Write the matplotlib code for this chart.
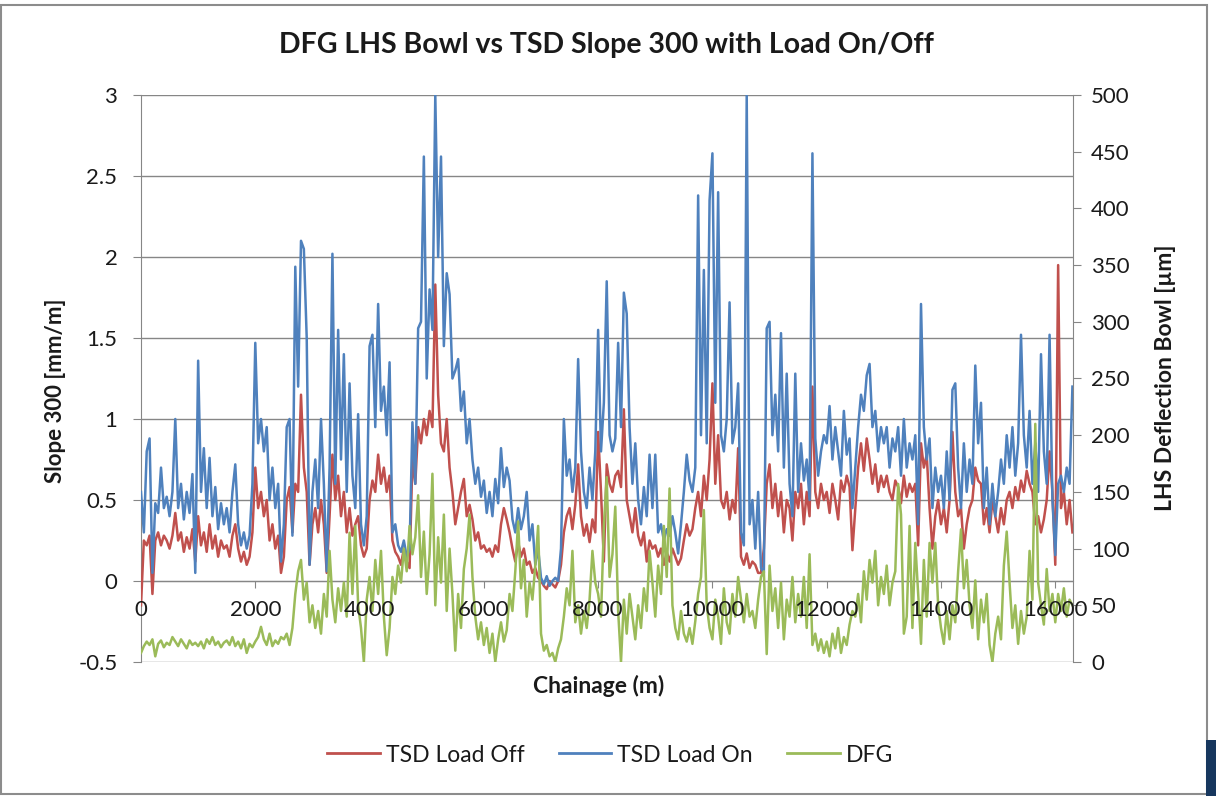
import numpy as np
import matplotlib
matplotlib.use("Agg")
import matplotlib.pyplot as plt
from matplotlib.lines import Line2D
from matplotlib.patches import Rectangle
from matplotlib.transforms import offset_copy

plt.rcParams['font.family'] = ['Lato', 'DejaVu Sans']

# Chainage sampled every 50 m (0 .. 16300 m)
chainage = np.arange(0, 16301, 50)

# TSD Load Off (Slope 300, mm/m) - left axis
load_off = [
    -0.15, 0.25, 0.22, 0.28, -0.08, 0.25, 0.30, 0.22, 0.28, 0.25,
    0.20, 0.28, 0.42, 0.25, 0.30, 0.18, 0.27, 0.20, 0.32, 0.12,
    0.40, 0.22, 0.30, 0.18, 0.35, 0.20, 0.28, 0.15, 0.25, 0.20,
    0.22, 0.15, 0.28, 0.35, 0.20, 0.12, 0.18, 0.10, 0.15, 0.30,
    0.70, 0.45, 0.55, 0.40, 0.50, 0.25, 0.35, 0.20, 0.28, 0.05,
    0.15, 0.50, 0.58, 0.30, 0.60, 0.55, 1.15, 0.70, 0.55, 0.10,
    0.35, 0.45, 0.30, 0.50, 0.35, 0.05, 0.40, 0.78, 0.50, 0.65,
    0.40, 0.55, 0.30, 0.45, 0.28, 0.35, 0.40, 0.22, 0.15, 0.20,
    0.50, 0.62, 0.55, 0.78, 0.60, 0.70, 0.55, 0.65, 0.25, 0.18,
    0.15, 0.10, 0.20, 0.12, 0.08, 0.75, 0.60, 0.95, 0.85, 1.00,
    0.90, 1.05, 0.95, 1.83, 1.15, 0.85, 0.80, 1.00, 0.70, 0.55,
    0.35, 0.45, 0.55, 0.63, 0.40, 0.47, 0.38, 0.25, 0.30, 0.20,
    0.22, 0.18, 0.20, 0.15, 0.22, 0.18, 0.35, 0.45, 0.38, 0.30,
    0.20, 0.12, 0.24, 0.15, 0.20, 0.10, 0.12, 0.05, 0.08, 0.02,
    0.00, -0.03, -0.05, 0.00, -0.02, -0.04, 0.00, 0.10, 0.30, 0.40,
    0.45, 0.32, 0.47, 0.72, 0.40, 0.28, 0.35, 0.24, 0.38, 0.30,
    0.92, 0.55, 0.12, 0.72, 0.60, 0.55, 0.65, 0.68, 0.58, 1.06,
    0.50, 0.40, 0.30, 0.45, 0.28, 0.22, 0.30, 0.12, 0.25, 0.20,
    0.22, 0.15, 0.20, 0.10, 0.18, 0.12, 0.20, 0.15, 0.10, 0.14,
    0.25, 0.35, 0.28, 0.32, 0.45, 0.55, 0.40, 0.65, 0.50, 0.75,
    1.22, 0.60, 0.90, 0.50, 0.45, 0.55, 0.38, 0.50, 0.42, 0.82,
    0.15, 0.10, 0.17, 0.08, 0.12, 0.10, 0.05, 0.05, 0.20, 0.60,
    0.72, 0.45, 0.60, 0.40, 0.55, 0.30, 0.50, 0.45, 0.25, 0.55,
    0.45, 0.60, 0.35, 0.55, 0.40, 1.20, 0.55, 0.45, 0.60, 0.50,
    0.55, 0.42, 0.60, 0.50, 0.38, 0.62, 0.55, 0.65, 0.58, 0.19,
    0.45, 0.70, 0.85, 0.68, 0.88, 0.75, 0.60, 0.72, 0.55, 0.65,
    0.58, 0.65, 0.55, 0.50, 0.62, 0.58, 0.48, 0.65, 0.52, 0.60,
    0.55, 0.60, 0.22, 0.85, 0.70, 0.78, 0.45, 0.20, 0.40, 0.50,
    0.35, 0.45, 0.30, 0.50, 0.92, 0.55, 0.40, 0.45, 0.20, 0.35,
    0.45, 0.50, 0.70, 0.62, 0.60, 0.35, 0.45, 0.30, 0.50, 0.40,
    0.30, 0.45, 0.35, 0.50, 0.55, 0.45, 0.58, 0.50, 0.62, 0.55,
    0.68, 0.60, 0.55, 0.35, 0.40, 0.30, 0.38, 0.50, 0.80, 0.55,
    0.10, 1.95, 0.45, 0.55, 0.35, 0.50, 0.30,
]

# TSD Load On (Slope 300, mm/m) - left axis
load_on = [
    0.55, 0.30, 0.80, 0.88, 0.05, 0.48, 0.42, 0.70, 0.45, 0.52,
    0.40, 0.55, 1.00, 0.45, 0.60, 0.38, 0.55, 0.42, 0.66, 0.05,
    1.36, 0.55, 0.82, 0.45, 0.76, 0.40, 0.58, 0.32, 0.48, 0.35,
    0.45, 0.30, 0.55, 0.72, 0.35, 0.22, 0.30, 0.20, 0.28, 0.60,
    1.47, 0.85, 1.00, 0.80, 0.95, 0.50, 0.70, 0.45, 0.60, 0.12,
    0.35, 0.95, 1.00, 0.28, 1.94, 1.20, 2.10, 2.05, 1.50, 0.10,
    0.55, 0.75, 0.45, 1.00, 0.60, 0.06, 0.70, 2.02, 0.60, 1.55,
    0.75, 1.40, 0.55, 1.22, 0.65, 0.45, 1.03, 0.35, 0.22, 0.40,
    1.45, 1.52, 0.95, 1.71, 1.05, 1.20, 0.90, 1.35, 0.30, 0.35,
    0.22, 0.18, 0.25, 0.15, 0.20, 0.98, 0.60, 1.56, 1.60, 2.62,
    1.25, 1.80, 1.55, 3.00, 2.00, 2.62, 1.45, 1.90, 1.77, 1.25,
    1.30, 1.37, 1.05, 1.17, 0.85, 1.00, 0.75, 0.60, 0.70, 0.52,
    0.62, 0.42, 0.55, 0.40, 0.63, 0.48, 0.82, 0.58, 0.70, 0.62,
    0.38, 0.30, 0.45, 0.32, 0.40, 0.55, 0.25, 0.35, 0.10, 0.20,
    0.02, -0.02, 0.03, -0.03, 0.00, 0.02, 0.00, 0.20, 1.00, 0.65,
    0.75, 0.55, 0.70, 1.37, 0.80, 0.55, 0.45, 0.70, 0.50, 0.80,
    1.55, 0.80, 1.10, 1.85, 0.90, 0.80, 0.88, 1.47, 0.95, 1.78,
    1.65, 0.95, 0.60, 0.85, 0.50, 0.35, 0.58, 0.40, 0.78, 0.45,
    0.78, 0.30, 0.35, 0.25, 0.32, 0.28, 0.40, 0.30, 0.17, 0.35,
    0.55, 0.78, 0.62, 0.55, 0.70, 2.38, 0.90, 1.92, 0.85, 2.35,
    2.64, 1.10, 2.40, 0.90, 0.80, 1.00, 1.72, 0.85, 0.95, 1.22,
    0.30, 0.22, 3.00, 0.35, 0.50, 0.20, 0.55, 0.08, 0.05, 1.56,
    1.60, 0.90, 1.15, 0.80, 1.53, 0.70, 1.28, 0.60, 0.40, 1.28,
    0.55, 0.85, 0.62, 0.75, 0.50, 2.64, 0.88, 0.65, 0.80, 0.90,
    0.85, 1.08, 0.75, 0.95, 0.80, 0.65, 1.05, 0.78, 0.88, 0.45,
    0.70, 0.95, 1.15, 1.05, 1.27, 1.34, 0.95, 1.05, 0.80, 0.95,
    0.85, 0.95, 0.70, 0.88, 0.80, 0.95, 0.65, 1.00, 0.70, 0.85,
    0.75, 0.90, 0.35, 1.71, 0.95, 0.75, 0.88, 0.45, 0.70, 0.55,
    0.65, 0.45, 0.80, 0.50, 1.18, 1.22, 0.70, 0.45, 0.85, 0.55,
    0.75, 0.60, 1.33, 0.85, 1.10, 0.45, 0.70, 0.35, 0.60, 0.40,
    0.55, 0.75, 0.60, 0.90, 0.70, 0.95, 0.65, 0.85, 1.52, 0.90,
    0.70, 1.05, 0.60, 0.85, 0.55, 1.40, 0.80, 0.60, 1.52, 0.50,
    0.16, 0.60, 0.65, 0.55, 0.70, 0.60, 1.20,
]

# DFG LHS deflection bowl (um) - right axis
dfg = [
    8, 14, 18, 15, 20, 5, 16, 19, 13, 17,
    15, 22, 18, 14, 20, 16, 12, 19, 15, 17,
    14, 18, 12, 20, 16, 22, 15, 18, 13, 17,
    19, 15, 22, 14, 18, 12, 20, 8, 16, 13,
    18, 22, 31, 20, 15, 25, 14, 19, 16, 22,
    20, 25, 15, 30, 60, 80, 90, 55, 70, 35,
    50, 30, 45, 25, 60, 40, 98, 55, 35, 65,
    45, 70, 40, 114, 60, 120, 50, 30, 0, 55,
    75, 45, 90, 60, 98, 40, 6, 30, 75, 60,
    85, 70, 100, 80, 120, 95, 110, 147, 75, 115,
    60, 95, 166, 50, 110, 70, 130, 45, 100, 60,
    10, 60, 30, 82, 100, 130, 75, 40, 20, 35,
    15, 30, 8, 25, 0, 20, 35, 18, 28, 60,
    45, 80, 124, 65, 90, 40, 70, 55, 85, 120,
    25, 10, 15, 5, 8, 0, 12, 20, 40, 65,
    50, 98, 35, 50, 25, 45, 30, 55, 98, 70,
    60, 40, 120, 163, 75, 95, 137, 45, 0, 55,
    25, 60, 40, 20, 50, 30, 65, 45, 98, 70,
    40, 85, 60, 120, 75, 153, 50, 30, 20, 45,
    25, 18, 30, 16, 36, 60, 75, 134, 50, 30,
    20, 55, 40, 16, 65, 35, 25, 60, 40, 75,
    55, 35, 60, 40, 45, 30, 55, 75, 80, 7,
    85, 45, 65, 30, 70, 20, 55, 40, 75, 35,
    60, 40, 75, 30, 95, 15, 25, 10, 20, 8,
    18, 5, 25, 12, 30, 8, 22, 15, 33, 45,
    40, 60, 35, 80, 55, 90, 70, 98, 50, 75,
    60, 85, 50, 70, 80, 157, 130, 25, 40, 120,
    30, 105, 60, 16, 90, 40, 105, 70, 105, 50,
    30, 16, 45, 20, 50, 35, 80, 117, 65, 90,
    50, 30, 72, 20, 55, 35, 60, 15, 0, 25,
    40, 20, 85, 115, 70, 30, 50, 16, 45, 25,
    40, 98, 55, 210, 70, 50, 33, 82, 45, 60,
    35, 60, 45, 65, 40, 55, 50,
]

x_ticks = [0, 2000, 4000, 6000, 8000, 10000, 12000, 14000, 16000]
x_tick_labels = ['0', '2000', '4000', '6000', '8000', '10000', '12000',
                 '14000', '16000']
left_ticks = [-0.5, 0, 0.5, 1, 1.5, 2, 2.5, 3]
left_labels = ['-0.5', '0', '0.5', '1', '1.5', '2', '2.5', '3']
right_ticks = [0, 50, 100, 150, 200, 250, 300, 350, 400, 450, 500]

series_names = ['TSD Load Off', 'TSD Load On', 'DFG']
colors = ['#C0504D', '#4F81BD', '#9BBB59']
title = 'DFG LHS Bowl vs TSD Slope 300 with Load On/Off'

W, H = 1216, 796
fig = plt.figure(figsize=(W / 100, H / 100), dpi=100)
ax = fig.add_axes([141 / W, 1 - 662 / H, (1073 - 141) / W, (662 - 95) / H])

grid_c = '#868686'
txt_c = '#1a1a1a'
lw = 1.8

ax.plot(chainage, load_off, color=colors[0], lw=lw, zorder=3)
ax.plot(chainage, load_on, color=colors[1], lw=lw, zorder=4)
ax.set_xlim(0, 16310)
ax.set_ylim(-0.5, 3)
ax.set_yticks(left_ticks)
ax.set_yticklabels(left_labels)
ax.set_xticks(x_ticks)
ax.set_xticklabels([])
ax.yaxis.grid(True, color=grid_c, lw=1.0)
ax.set_axisbelow(True)
for s in ['top', 'right']:
    ax.spines[s].set_visible(False)
ax.spines['bottom'].set_position(('data', 0))
ax.spines['bottom'].set_color(grid_c)
ax.spines['left'].set_color(grid_c)
ax.tick_params(axis='y', direction='out', length=6, color=grid_c,
               labelsize=16, pad=11, labelcolor=txt_c)
ax.tick_params(axis='x', direction='out', length=5, color=grid_c)

ax2 = ax.twinx()
ax2.plot(chainage, dfg, color=colors[2], lw=lw, zorder=5)
ax2.set_ylim(0, 500)
ax2.set_yticks(right_ticks)
for s in ['top', 'left', 'bottom']:
    ax2.spines[s].set_visible(False)
ax2.spines['right'].set_color(grid_c)
ax2.tick_params(axis='y', direction='out', length=6, color=grid_c,
                labelsize=16, pad=7, labelcolor=txt_c)

# x tick labels drawn on top of the secondary series (as in the original)
lab_tr = offset_copy(ax.transData, fig=fig, x=0, y=-13.6, units='points')
for t, lab in zip(x_ticks, x_tick_labels):
    ax2.text(t, 0, lab, transform=lab_tr, ha='center', va='top',
             fontsize=16, color=txt_c, zorder=10, clip_on=False)

fig.text(606 / W, 1 - 45 / H, title, ha='center', va='center',
         fontsize=20.5, fontweight='bold', color=txt_c)
fig.text(56 / W, 1 - 391 / H, 'Slope 300 [mm/m]', rotation=90,
         ha='center', va='center', fontsize=16, fontweight='bold', color=txt_c)
fig.text(1165 / W, 1 - 378 / H, 'LHS Deflection Bowl [µm]', rotation=90,
         ha='center', va='center', fontsize=16.5, fontweight='bold', color=txt_c)
fig.text(599 / W, 1 - 686 / H, 'Chainage (m)', ha='center', va='center',
         fontsize=16.5, fontweight='bold', color=txt_c)

handles = [Line2D([0], [0], color=c, lw=2) for c in colors]
fig.legend(handles, series_names, loc='center', ncol=3,
           bbox_to_anchor=(610 / W, 1 - 755 / H), frameon=False,
           fontsize=16.5, handlelength=2.3, handletextpad=0.25,
           columnspacing=1.5, labelcolor=txt_c)

# chart area border and small edge block
fig.patches.append(Rectangle((1 / W, 2 / H), 1206 / W, 789 / H,
                             transform=fig.transFigure, fill=False,
                             edgecolor='#8c8c8c', lw=1.5))
fig.patches.append(Rectangle((1206 / W, 0), 10 / W, 56 / H,
                             transform=fig.transFigure, facecolor='#17375e',
                             edgecolor='none'))

fig.savefig('out.png', dpi=100)
